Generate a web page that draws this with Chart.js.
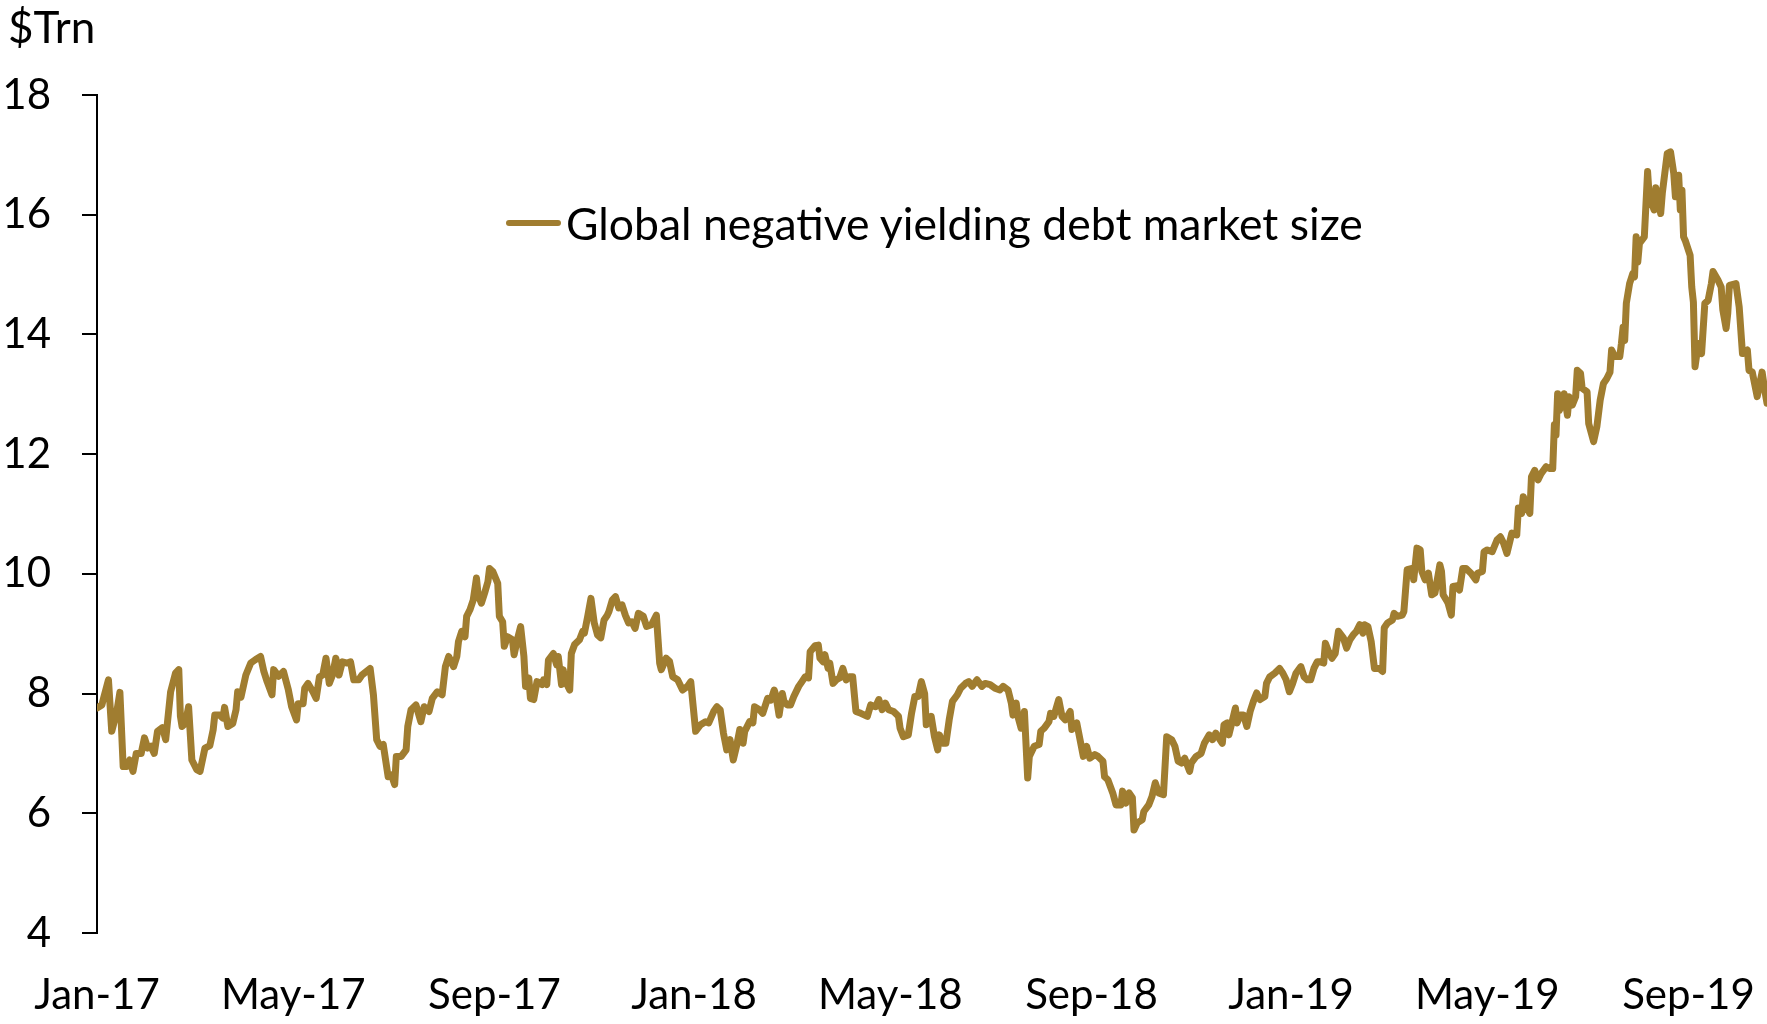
<!DOCTYPE html>
<html>
<head>
<meta charset="utf-8">
<title>Global negative yielding debt market size</title>
<script src="https://cdn.jsdelivr.net/npm/chart.js@4.4.1/dist/chart.umd.min.js"></script>
<style>
  html, body { margin: 0; padding: 0; background: #fff; }
  #wrap { position: relative; width: 1767px; height: 1024px; }
  #unit {
    position: absolute; left: 8px; top: 0px;
    font: 44px Lato, sans-serif; line-height: 52px; color: #000;
  }
  #legend {
    position: absolute; left: 506px; top: 197px;
    display: flex; align-items: center;
    font: 44.5px Lato, sans-serif; line-height: 52px; color: #000;
  }
  #legend .swatch {
    width: 55px; height: 6px; border-radius: 3px;
    background: #a07d30; margin-right: 5px;
  }
</style>
</head>
<body>
<div id="wrap">
  <canvas id="chart" width="1767" height="1024"></canvas>
  <div id="unit">$Trn</div>
  <div id="legend"><span class="swatch"></span><span>Global negative yielding debt market size</span></div>
</div>
<script>
// days counted from 1 Jan 2017
const dayOffsets = [
  0, 3, 4, 7, 9, 12, 14, 16, 18, 20,
  22, 24, 27, 29, 31, 33, 35, 37, 40, 42,
  45, 48, 50, 51, 52, 54, 56, 58, 61, 63,
  66, 69, 71, 72, 75, 77, 78, 80, 83, 85,
  86, 88, 91, 94, 97, 100, 102, 104, 107, 108,
  111, 114, 117, 119, 122, 123, 126, 127, 129, 132,
  134, 136, 138, 140, 142, 144, 146, 148, 150, 153,
  155, 157, 160, 162, 167, 169, 171, 173, 175, 178,
  180, 182, 183, 186, 189, 190, 192, 195, 198, 200,
  203, 205, 208, 211, 213, 215, 218, 220, 221, 223,
  225, 226, 228, 230, 232, 233, 235, 237, 239, 240,
  242, 245, 246, 248, 249, 251, 254, 255, 257, 259,
  261, 262, 264, 265, 267, 269, 272, 273, 275, 276,
  279, 281, 282, 284, 285, 286, 289, 290, 292, 295,
  297, 298, 300, 302, 304, 306, 308, 310, 312, 313,
  315, 317, 319, 321, 323, 325, 327, 329, 331, 334,
  336, 339, 342, 344, 345, 348, 350, 352, 355, 358,
  361, 363, 366, 369, 372, 374, 377, 379, 381, 383,
  385, 387, 389, 391, 393, 395, 396, 399, 401, 402,
  405, 407, 410, 412, 414, 415, 417, 419, 420, 422,
  424, 426, 429, 431, 433, 435, 436, 439, 441, 442,
  444, 445, 447, 448, 450, 452, 454, 456, 458, 460,
  462, 464, 467, 471, 473, 476, 478, 480, 482, 484,
  487, 490, 491, 493, 496, 498, 500, 502, 504, 506,
  507, 510, 512, 514, 515, 517, 519, 521, 523, 526,
  528, 531, 533, 535, 538, 541, 543, 546, 549, 552,
  554, 557, 559, 560, 562, 563, 565, 567, 569, 570,
  573, 576, 577, 579, 582, 583, 585, 588, 590, 592,
  595, 596, 599, 601, 603, 605, 607, 610, 612, 615,
  616, 618, 621, 623, 626, 627, 629, 631, 633, 634,
  636, 639, 640, 643, 645, 647, 649, 652, 654, 657,
  659, 661, 663, 665, 668, 669, 672, 675, 677, 680,
  682, 684, 688, 689, 691, 692, 694, 696, 697, 699,
  701, 703, 705, 707, 709, 711, 714, 715, 717, 720,
  723, 725, 727, 729, 731, 733, 736, 738, 740, 742,
  744, 746, 748, 750, 751, 753, 755, 757, 759, 762,
  764, 766, 768, 770, 772, 774, 775, 777, 779, 781,
  784, 786, 787, 789, 792, 793, 795, 798, 799, 801,
  804, 805, 807, 809, 810, 812, 814, 816, 818, 821,
  822, 823, 825, 826, 828, 829, 831, 833, 835, 837,
  840, 843, 844, 847, 848, 850, 853, 856, 858, 860,
  862, 865, 868, 869, 871, 872, 874, 876, 877, 879,
  881, 883, 886, 888, 890, 891, 892, 893, 894, 896,
  897, 899, 900, 902, 904, 905, 907, 908, 911, 912,
  915, 917, 919, 921, 923, 925, 926, 928, 931, 932,
  933, 934, 935, 937, 939, 940, 941, 942, 943, 946,
  948, 949, 952, 953, 956, 957, 960, 962, 964, 965,
  967, 968, 969, 970, 971, 974, 975, 976, 977, 979,
  981, 983, 985, 987, 988, 991, 993, 994, 996, 997,
  998, 1002, 1004, 1006, 1009, 1010, 1012, 1015, 1018, 1020,
  1021
];

// market size, $ trillion
const debtSize = [
  7.76, 7.81, 7.92, 8.23, 7.37, 7.68, 8.02, 6.78, 6.78, 6.89,
  6.70, 7.00, 7.00, 7.26, 7.09, 7.12, 7.00, 7.37, 7.43, 7.23,
  8.03, 8.34, 8.40, 7.62, 7.45, 7.50, 7.78, 6.89, 6.73, 6.70,
  7.09, 7.13, 7.39, 7.64, 7.64, 7.59, 7.77, 7.45, 7.50, 7.73,
  8.03, 7.94, 8.31, 8.51, 8.57, 8.62, 8.37, 8.20, 7.98, 8.40,
  8.29, 8.37, 8.06, 7.78, 7.56, 7.83, 7.83, 8.09, 8.17, 8.03,
  7.92, 8.28, 8.31, 8.59, 8.17, 8.31, 8.59, 8.31, 8.53, 8.51,
  8.53, 8.23, 8.23, 8.31, 8.42, 7.98, 7.23, 7.12, 7.15, 6.61,
  6.64, 6.48, 6.95, 6.95, 7.06, 7.45, 7.73, 7.81, 7.53, 7.78,
  7.70, 7.92, 8.03, 7.98, 8.45, 8.62, 8.45, 8.62, 8.87, 9.04,
  8.95, 9.29, 9.40, 9.56, 9.93, 9.65, 9.51, 9.68, 9.87, 10.09,
  10.04, 9.84, 9.29, 9.20, 8.79, 8.95, 8.90, 8.65, 8.90, 9.12,
  8.62, 8.12, 8.26, 7.92, 7.90, 8.20, 8.15, 8.23, 8.15, 8.56,
  8.67, 8.48, 8.62, 8.15, 8.40, 8.23, 8.06, 8.67, 8.82, 8.90,
  9.04, 9.01, 9.29, 9.59, 9.18, 8.98, 8.93, 9.23, 9.31, 9.37,
  9.56, 9.62, 9.43, 9.48, 9.31, 9.18, 9.20, 9.09, 9.34, 9.29,
  9.12, 9.15, 9.31, 8.51, 8.40, 8.59, 8.54, 8.28, 8.23, 8.06,
  8.12, 8.20, 7.37, 7.48, 7.53, 7.51, 7.70, 7.78, 7.73, 7.34,
  7.06, 7.23, 6.89, 7.12, 7.40, 7.17, 7.37, 7.53, 7.51, 7.78,
  7.73, 7.67, 7.92, 7.89, 8.06, 7.98, 7.64, 8.00, 7.87, 7.81,
  7.81, 7.95, 8.12, 8.20, 8.28, 8.26, 8.70, 8.80, 8.81, 8.59,
  8.53, 8.65, 8.42, 8.51, 8.17, 8.23, 8.26, 8.42, 8.23, 8.28,
  8.28, 7.70, 7.67, 7.62, 7.81, 7.78, 7.90, 7.73, 7.84, 7.73,
  7.70, 7.62, 7.42, 7.28, 7.31, 7.67, 7.95, 7.95, 8.20, 8.00,
  7.48, 7.62, 7.28, 7.06, 7.31, 7.17, 7.17, 7.56, 7.87, 7.98,
  8.09, 8.17, 8.20, 8.12, 8.23, 8.12, 8.17, 8.15, 8.09, 8.06,
  8.12, 8.06, 7.84, 7.64, 7.84, 7.62, 7.42, 7.70, 6.59, 6.95,
  7.12, 7.15, 7.37, 7.42, 7.53, 7.67, 7.62, 7.90, 7.62, 7.56,
  7.70, 7.40, 7.51, 7.23, 6.95, 7.12, 6.92, 6.98, 6.95, 6.87,
  6.61, 6.56, 6.34, 6.14, 6.14, 6.37, 6.17, 6.34, 6.26, 5.72,
  5.84, 5.89, 6.03, 6.14, 6.28, 6.51, 6.34, 6.31, 7.28, 7.23,
  7.12, 6.87, 6.84, 6.92, 6.70, 6.84, 6.95, 7.00, 7.17, 7.31,
  7.23, 7.34, 7.17, 7.48, 7.51, 7.31, 7.53, 7.76, 7.51, 7.64,
  7.64, 7.45, 7.70, 7.87, 8.01, 7.90, 7.95, 8.17, 8.28, 8.34,
  8.42, 8.34, 8.23, 8.03, 8.17, 8.34, 8.45, 8.28, 8.23, 8.23,
  8.42, 8.53, 8.53, 8.51, 8.84, 8.70, 8.59, 8.67, 9.04, 8.93,
  8.76, 8.90, 8.98, 9.04, 9.15, 9.01, 9.15, 9.12, 8.87, 8.42,
  8.42, 8.37, 9.10, 9.18, 9.23, 9.34, 9.29, 9.31, 9.37, 10.07,
  10.09, 9.90, 10.43, 10.40, 10.04, 9.90, 10.01, 9.65, 9.68, 10.15,
  10.04, 9.65, 9.56, 9.51, 9.31, 9.79, 9.80, 9.73, 10.09, 10.09,
  10.01, 9.90, 10.01, 10.04, 10.37, 10.40, 10.37, 10.57, 10.62, 10.51,
  10.34, 10.68, 10.65, 11.10, 11.01, 11.29, 11.12, 11.01, 11.62, 11.73,
  11.57, 11.68, 11.79, 11.76, 11.76, 12.49, 12.32, 13.01, 12.73, 12.85,
  13.01, 12.65, 12.96, 12.82, 12.96, 13.40, 13.35, 13.10, 13.04, 12.51,
  12.21, 12.46, 12.90, 13.18, 13.26, 13.37, 13.74, 13.63, 13.63, 13.85,
  14.12, 13.90, 14.52, 14.85, 15.02, 14.96, 15.63, 15.21, 15.52, 15.63,
  16.72, 16.30, 16.08, 16.45, 16.02, 16.36, 17.02, 17.05, 16.69, 16.30,
  16.66, 16.08, 16.41, 15.63, 15.57, 15.32, 14.79, 14.54, 13.46, 13.85,
  13.68, 14.52, 14.57, 14.85, 15.05, 14.91, 14.79, 14.41, 14.10, 14.35,
  14.82, 14.85, 14.46, 13.68, 13.74, 13.40, 13.37, 12.96, 13.37, 13.01,
  12.85
];

// month markers on the x axis
const tickDays = [0, 120, 243, 365, 485, 608, 730, 850, 973];
const tickLabels = ['Jan-17', 'May-17', 'Sep-17', 'Jan-18', 'May-18', 'Sep-18', 'Jan-19', 'May-19', 'Sep-19'];

const LINE_COLOR = '#a07d30';
const axisFont = { family: 'Lato, sans-serif', size: 42 };

const points = dayOffsets.map((d, i) => ({ x: d, y: debtSize[i] }));

new Chart(document.getElementById('chart'), {
  type: 'line',
  data: {
    datasets: [{
      label: 'Global negative yielding debt market size',
      data: points,
      borderColor: LINE_COLOR,
      borderWidth: 7,
      borderJoinStyle: 'round',
      borderCapStyle: 'round',
      pointRadius: 0,
      tension: 0,
      fill: false
    }]
  },
  options: {
    responsive: false,
    animation: false,
    layout: { padding: { top: 95, right: 0, bottom: 0, left: 0 } },
    plugins: {
      legend: { display: false },
      tooltip: { enabled: false }
    },
    scales: {
      x: {
        type: 'linear',
        min: 0,
        max: 1021,
        afterBuildTicks: (scale) => { scale.ticks = tickDays.map(v => ({ value: v })); },
        afterFit: (scale) => {
          // labels sit well inside the canvas, so no side padding is needed
          scale.height = 91;
          scale.paddingLeft = 0;
          scale.paddingRight = 0;
        },
        ticks: {
          autoSkip: false,
          maxRotation: 0,
          padding: 37,
          color: '#000',
          font: axisFont,
          callback: (value, index) => tickLabels[index]
        },
        grid: { display: false, drawTicks: false },
        border: { display: false }
      },
      y: {
        min: 4,
        max: 18,
        afterFit: (scale) => { scale.width = 97; },
        ticks: {
          stepSize: 2,
          padding: 31,
          color: '#000',
          font: axisFont
        },
        grid: {
          drawOnChartArea: false,
          drawTicks: true,
          tickLength: 15,
          color: '#000',
          lineWidth: 2
        },
        border: { color: '#000', width: 2 }
      }
    }
  }
});
</script>
</body>
</html>
